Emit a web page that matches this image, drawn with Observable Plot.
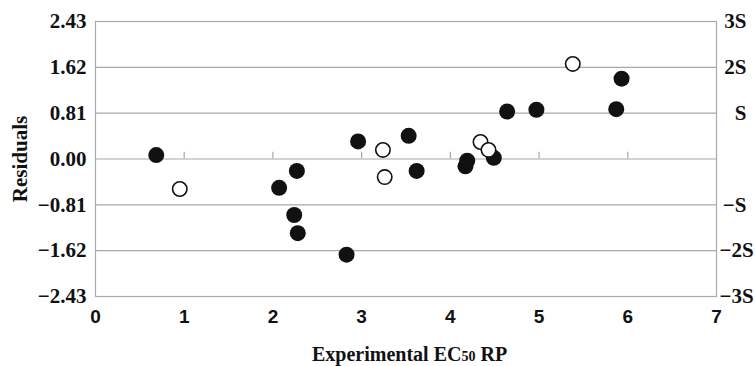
<!DOCTYPE html>
<html>
<head>
<meta charset="utf-8">
<script src="https://cdn.jsdelivr.net/npm/d3@7"></script>
<script src="https://cdn.jsdelivr.net/npm/@observablehq/plot@0.6"></script>
<style>
  html, body { margin: 0; padding: 0; background: #fff; }
  #wrap { position: relative; width: 755px; height: 366px; }
  #xtitle {
    position: absolute; left: 312px; top: 344px;
    font-family: "Liberation Serif", "Times New Roman", serif; font-weight: bold;
    font-size: 20px; line-height: 20px; color: #111; white-space: nowrap;
  }
  #xtitle span { font-size: 14px; }
</style>
</head>
<body>
<div id="wrap">
  <div id="chart"></div>
  <div id="xtitle">Experimental EC<span>50</span> RP</div>
</div>
<script>
// Filled points (x, residual)
const filledX = [0.685, 2.07, 2.27, 2.24, 2.28, 2.83, 2.96, 3.53, 3.62, 4.17, 4.19, 4.49, 4.64, 4.97, 5.87, 5.93];
const filledY = [0.07, -0.51, -0.21, -0.99, -1.31, -1.69, 0.31, 0.41, -0.21, -0.13, -0.03, 0.02, 0.84, 0.87, 0.88, 1.42];
// Open points (x, residual)
const openX = [0.95, 3.24, 3.26, 4.34, 4.43, 5.38];
const openY = [-0.53, 0.16, -0.32, 0.30, 0.16, 1.68];

const leftTicks = [2.43, 1.62, 0.81, 0, -0.81, -1.62, -2.43];
const gridTicks = [1.62, 0.81, 0, -0.81, -1.62];
const xTicks = [0, 1, 2, 3, 4, 5, 6, 7];
const zeroTickX = [1, 2, 3, 4, 5, 6];
const rightTicksA = [2.43, 1.62, 0.81, -0.81];
const rightLabelsA = ["3S", "2S", "S", "\u2212S"];
const rightTicksB = [-1.62, -2.43];
const rightLabelsB = ["\u22122S", "\u22123S"];

const filled = filledX.map((x, i) => ({x, y: filledY[i]}));
const open = openX.map((x, i) => ({x, y: openY[i]}));

const serif = "'Liberation Serif', 'Times New Roman', serif";
const sans = "'Liberation Sans', Arial, sans-serif";
const grid = "#a8a8a8";

const chart = Plot.plot({
  width: 755,
  height: 336,
  marginTop: 21,
  marginBottom: 40,
  marginLeft: 95,
  marginRight: 39,
  x: {domain: [0, 7]},
  y: {domain: [-2.43, 2.43]},
  marks: [
    Plot.ruleY(gridTicks, {stroke: grid, strokeWidth: 1.2}),
    Plot.frame({stroke: grid, strokeWidth: 1.2}),
    Plot.ruleX(zeroTickX, {y1: 0, y2: 0.12, stroke: grid, strokeWidth: 1.2}),
    Plot.axisY(leftTicks, {
      anchor: "left", tickSize: 0, tickPadding: 9,
      tickFormat: d => (d < 0 ? "\u2212" : "") + Math.abs(d).toFixed(2),
      fontFamily: serif, fontWeight: "bold", fontSize: 21, fill: "#111",
      label: "Residuals", labelArrow: "none", labelAnchor: "center", labelOffset: 83
    }),
    Plot.axisY(rightTicksA, {
      anchor: "right", tickSize: 0, tickPadding: 30, textAnchor: "end",
      tickFormat: d => rightLabelsA[rightTicksA.indexOf(d)],
      fontFamily: serif, fontWeight: "bold", fontSize: 21, fill: "#111", label: null
    }),
    Plot.axisY(rightTicksB, {
      anchor: "right", tickSize: 0, tickPadding: 3,
      tickFormat: d => rightLabelsB[rightTicksB.indexOf(d)],
      fontFamily: serif, fontWeight: "bold", fontSize: 21, fill: "#111", label: null
    }),
    Plot.axisX(xTicks, {
      anchor: "bottom", tickSize: 0, tickPadding: 13,
      fontFamily: sans, fontWeight: "bold", fontSize: 19, fill: "#111", label: null
    }),
    Plot.dot(filled, {x: "x", y: "y", r: 8, fill: "#111", stroke: "none"}),
    Plot.dot(open, {x: "x", y: "y", r: 7.2, fill: "white", stroke: "#111", strokeWidth: 1.6})
  ]
});
document.getElementById("chart").appendChild(chart);
// style the y-axis label (rotated title)
d3.select(chart).selectAll("[aria-label='y-axis label'] text, [aria-label='y-axis label']")
  .attr("font-family", serif).attr("font-weight", "bold").attr("font-size", 21).attr("fill", "#111");
</script>
</body>
</html>
